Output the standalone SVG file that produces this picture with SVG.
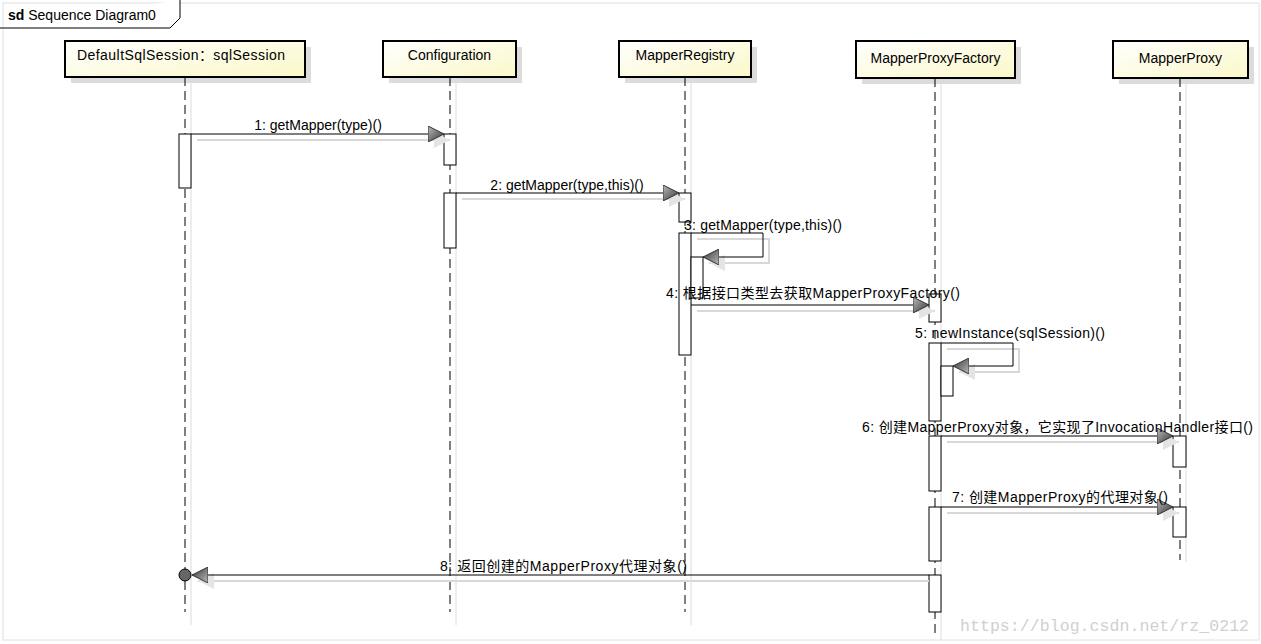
<svg xmlns="http://www.w3.org/2000/svg" width="1261" height="644" viewBox="0 0 1261 644">
<defs>
<linearGradient id="box" x1="0" y1="0" x2="1" y2="1"><stop offset="0" stop-color="#ffffff"/><stop offset="1" stop-color="#fbf8c8"/></linearGradient>
<linearGradient id="ah" x1="0" y1="0" x2="1" y2="1"><stop offset="0" stop-color="#bbbbbb"/><stop offset="1" stop-color="#333333"/></linearGradient>
<marker id="arr" markerWidth="18" markerHeight="16" refX="16" refY="8" orient="auto" markerUnits="userSpaceOnUse"><path d="M0,0 L16,8 L0,16 Z" fill="url(#ah)" stroke="#333" stroke-width="1"/></marker>
<marker id="arrs" markerWidth="18" markerHeight="16" refX="16" refY="8" orient="auto" markerUnits="userSpaceOnUse"><path d="M0,0 L16,8 L0,16 Z" fill="#e4e4e4"/></marker>
</defs>
<style>
text{font-family:"Liberation Sans",Arial,sans-serif;font-size:14px;fill:#000}
.cjk{font-family:"Liberation Sans","Noto Sans CJK SC",sans-serif}
.hd{fill:url(#box);stroke:#000;stroke-width:2}
.sh{fill:#dcdcdc}
.ll{stroke:#000;stroke-width:1;stroke-dasharray:9,5}
.lls{stroke:#dcdcdc;stroke-width:1}
.act{fill:#fff;stroke:#000;stroke-width:1}
.m{stroke:#000;stroke-width:1;fill:none}
.ms{stroke:#d8d8d8;stroke-width:2;fill:none}
</style>
<rect x="3" y="3" width="1256" height="637" fill="none" stroke="#e0e0e0"/>
<path d="M0,28 L170,28 L180,18 L180,0" fill="#fff" stroke="#000"/>
<text x="8" y="20"><tspan font-weight="bold">sd</tspan> Sequence Diagram0</text>

<g id="n1">
<rect class="sh" x="71" y="47" width="240" height="36"/>
<line class="lls" x1="191" y1="83" x2="191" y2="625"/>
<line class="ll" x1="185" y1="77" x2="185" y2="612"/>
<rect class="hd" x="65" y="41" width="240" height="36"/>
<text x="77" y="60" class="cjk" textLength="208">DefaultSqlSession：sqlSession</text>
<rect class="act" x="179" y="134" width="12" height="54"/>
</g>
<g id="n2">
<rect class="sh" x="389" y="47" width="133" height="36"/>
<line class="lls" x1="456" y1="83" x2="456" y2="625"/>
<line class="ll" x1="450" y1="77" x2="450" y2="612"/>
<rect class="hd" x="383" y="41" width="133" height="36"/>
<text x="449.5" y="60" text-anchor="middle">Configuration</text>
<rect class="act" x="444" y="134" width="12" height="31"/>
<rect class="act" x="444" y="193" width="12" height="55"/>
</g>
<g id="n3">
<rect class="sh" x="625" y="47" width="132" height="36"/>
<line class="lls" x1="691" y1="83" x2="691" y2="625"/>
<line class="ll" x1="685" y1="77" x2="685" y2="612"/>
<rect class="hd" x="619" y="41" width="132" height="36"/>
<text x="685" y="60" text-anchor="middle">MapperRegistry</text>
<rect class="act" x="679" y="193" width="12" height="29"/>
<rect class="act" x="679" y="233" width="12" height="122"/>
<rect class="act" x="691" y="257" width="12" height="41"/>
</g>
<g id="n4">
<rect class="sh" x="862" y="47" width="159" height="37"/>
<line class="lls" x1="941" y1="84" x2="941" y2="640"/>
<line class="ll" x1="935" y1="78" x2="935" y2="635"/>
<rect class="hd" x="856" y="41" width="159" height="37"/>
<text x="935.5" y="63" text-anchor="middle">MapperProxyFactory</text>
<rect class="act" x="929" y="294" width="12" height="28"/>
<rect class="act" x="929" y="343" width="12" height="78"/>
<rect class="act" x="941" y="366" width="12" height="30"/>
<rect class="act" x="929" y="436" width="12" height="55"/>
<rect class="act" x="929" y="507" width="12" height="54"/>
<rect class="act" x="929" y="575" width="12" height="37"/>
</g>
<g id="n5">
<rect class="sh" x="1119" y="47" width="135" height="37"/>
<line class="lls" x1="1186" y1="84" x2="1186" y2="562"/>
<line class="ll" x1="1180" y1="78" x2="1180" y2="560"/>
<rect class="hd" x="1113" y="41" width="135" height="37"/>
<text x="1180.5" y="63" text-anchor="middle">MapperProxy</text>
<rect class="act" x="1173" y="436" width="13" height="31"/>
<rect class="act" x="1173" y="507" width="13" height="30"/>
</g>

<g id="connectors">
<line class="ms" x1="197" y1="140" x2="450" y2="140" marker-end="url(#arrs)"/>
<line class="m" x1="191" y1="134" x2="444" y2="134" marker-end="url(#arr)"/>
<text x="318" y="130" text-anchor="middle">1: getMapper(type)()</text>

<line class="ms" x1="462" y1="199" x2="685" y2="199" marker-end="url(#arrs)"/>
<line class="m" x1="456" y1="193" x2="679" y2="193" marker-end="url(#arr)"/>
<text x="567" y="190" text-anchor="middle">2: getMapper(type,this)()</text>

<path class="ms" d="M697,239 H769 V263 H709" marker-end="url(#arrs)"/>
<path class="m" d="M691,233 H763 V257 H703" marker-end="url(#arr)"/>
<text x="684" y="230" textLength="158">3: getMapper(type,this)()</text>

<line class="ms" x1="697" y1="311" x2="935" y2="311" marker-end="url(#arrs)"/>
<line class="m" x1="691" y1="305" x2="929" y2="305" marker-end="url(#arr)"/>
<text x="666" y="298" class="cjk" textLength="294">4: 根据接口类型去获取MapperProxyFactory()</text>

<path class="ms" d="M947,349 H1019 V372 H959" marker-end="url(#arrs)"/>
<path class="m" d="M941,343 H1013 V366 H953" marker-end="url(#arr)"/>
<text x="915" y="338" textLength="190">5: newInstance(sqlSession)()</text>

<line class="ms" x1="947" y1="442" x2="1179" y2="442" marker-end="url(#arrs)"/>
<line class="m" x1="941" y1="436" x2="1173" y2="436" marker-end="url(#arr)"/>
<text x="862" y="432" class="cjk" textLength="391">6: 创建MapperProxy对象，它实现了InvocationHandler接口()</text>

<line class="ms" x1="947" y1="513" x2="1179" y2="513" marker-end="url(#arrs)"/>
<line class="m" x1="941" y1="507" x2="1173" y2="507" marker-end="url(#arr)"/>
<text x="952" y="502" class="cjk" textLength="216">7: 创建MapperProxy的代理对象()</text>

<line class="ms" x1="929" y1="581" x2="198" y2="581" marker-end="url(#arrs)"/>
<line class="m" x1="929" y1="575" x2="192" y2="575" marker-end="url(#arr)"/>
<circle cx="185" cy="575" r="6" fill="#666" stroke="#000"/>
<text x="440" y="571" class="cjk" textLength="247">8: 返回创建的MapperProxy代理对象()</text>
</g>
<text x="960" y="631" textLength="289" style="font-family:'Liberation Mono',monospace;font-size:16.5px;fill:#d0d0d0">https://blog.csdn.net/rz_0212</text>
</svg>
